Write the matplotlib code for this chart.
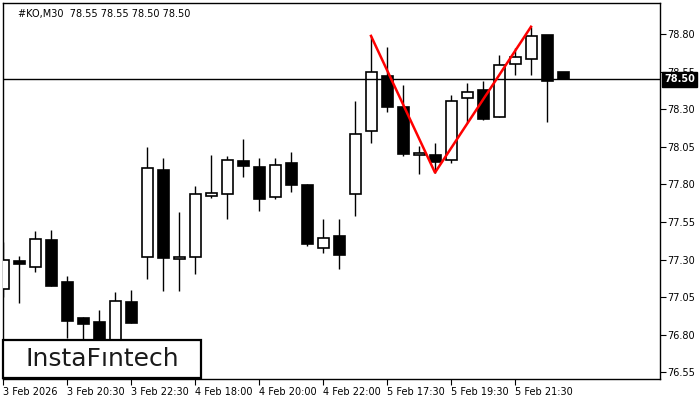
import matplotlib
matplotlib.use("Agg")
import matplotlib.pyplot as plt
from matplotlib.patches import Rectangle

opens  = [77.102, 77.291, 77.253, 77.430, 77.151, 76.911, 76.885, 76.750, 77.018, 77.315,
          77.897, 77.302, 77.319, 77.721, 77.735, 77.956, 77.917, 77.715, 77.943, 77.797,
          77.375, 77.457, 77.735, 78.154, 78.522, 78.316, 77.994, 77.996, 77.961, 78.374,
          78.429, 78.251, 78.600, 78.634, 78.795, 78.55]
highs  = [77.419, 77.324, 77.490, 77.497, 77.191, 76.916, 76.964, 77.086, 77.098, 78.048,
          77.976, 77.619, 77.790, 77.996, 77.990, 78.103, 77.976, 77.976, 78.016, 77.803,
          77.570, 77.570, 78.356, 78.789, 78.715, 78.462, 78.056, 78.076, 78.396, 78.478,
          78.489, 78.662, 78.707, 78.850, 78.795, 78.55]
lows   = [77.049, 77.009, 77.215, 77.126, 76.776, 76.731, 76.700, 76.700, 76.880, 77.173,
          77.093, 77.093, 77.204, 77.710, 77.572, 77.852, 77.626, 77.705, 77.752, 77.393,
          77.346, 77.239, 77.592, 78.078, 78.285, 77.992, 77.872, 77.879, 77.941, 78.207,
          78.229, 78.251, 78.529, 78.529, 78.218, 78.50]
closes = [77.297, 77.269, 77.435, 77.126, 76.893, 76.873, 76.730, 77.024, 76.880, 77.908,
          77.313, 77.317, 77.737, 77.743, 77.963, 77.925, 77.705, 77.930, 77.799, 77.406,
          77.442, 77.333, 78.134, 78.547, 78.318, 78.005, 78.008, 77.952, 78.356, 78.414,
          78.238, 78.596, 78.647, 78.789, 78.491, 78.50]

tick_idx = [0, 4, 8, 12, 16, 20, 24, 28, 32]
tick_labels = ["3 Feb 2026", "3 Feb 20:30", "3 Feb 22:30", "4 Feb 18:00", "4 Feb 20:00",
               "4 Feb 22:00", "5 Feb 17:30", "5 Feb 19:30", "5 Feb 21:30"]
price_ticks = [78.80, 78.55, 78.30, 78.05, 77.80, 77.55, 77.30, 77.05, 76.80, 76.55]
current_price = 78.50
title = "#KO,M30  78.55 78.55 78.50 78.50"
pattern_idx = [23, 27, 33]

W, H = 700, 400
fig = plt.figure(figsize=(7, 4), dpi=100)
ax = fig.add_axes([3 / W, 1 - 379 / H, (660 - 3) / W, (379 - 3) / H])
ax.set_xlim(0, (660 - 3) / 16)
ax.set_ylim(76.505, 79.008)

n = len(opens)
xs = list(range(n))
bw = 11 / 16
for i in xs:
    o, h, l, c = opens[i], highs[i], lows[i], closes[i]
    ax.vlines(i, l, h, color="black", linewidth=1.0, zorder=2)
    bottom = min(o, c)
    height = max(abs(c - o), 0.012)
    fc = "white" if c >= o else "black"
    ax.add_patch(Rectangle((i - bw / 2, bottom), bw, height, facecolor=fc,
                           edgecolor="black", linewidth=1.2, zorder=3))

# pattern lines
px = pattern_idx
py = [highs[pattern_idx[0]], lows[pattern_idx[1]], highs[pattern_idx[2]]]
ax.plot(px, py, color="#ff0000", linewidth=1.8, zorder=5)

# current price line
ax.axhline(current_price, color="black", linewidth=1.0, zorder=4)

ax.yaxis.tick_right()
ax.set_yticks(price_ticks)
ax.set_yticklabels([f"{p:.2f}" for p in price_ticks])
ax.set_xticks(tick_idx)
ax.set_xticklabels(tick_labels)
for lab in ax.get_xticklabels():
    lab.set_horizontalalignment("left")
ax.tick_params(axis="both", labelsize=7, length=4, width=0.8, color="black",
               direction="out", pad=1.5)
ax.tick_params(axis="x", pad=2)
for s in ax.spines.values():
    s.set_linewidth(1.0)
    s.set_color("black")

ax.text(0.023, 0.985, title, transform=ax.transAxes, fontsize=7,
        ha="left", va="top", color="black")

ax.annotate(f"{current_price:.2f}", xy=(1.0, current_price),
            xycoords=("axes fraction", "data"), xytext=(3, 0),
            textcoords="offset points", ha="left", va="center", fontsize=7,
            color="white", fontweight="bold",
            bbox=dict(boxstyle="square,pad=0.25", facecolor="black", edgecolor="black"),
            annotation_clip=False, zorder=10)

# logo box
fig.patches.append(Rectangle((3 / W, 1 - 378 / H), 198 / W, 38 / H, transform=fig.transFigure,
                             facecolor="white", edgecolor="black", linewidth=1.6, zorder=20))
fig.text(102 / W, 1 - 359 / H, "InstaF\u0131ntech", fontsize=18, ha="center", va="center",
         color="#1a1a1a", zorder=21)

fig.savefig("out.png", dpi=100, facecolor="white")
